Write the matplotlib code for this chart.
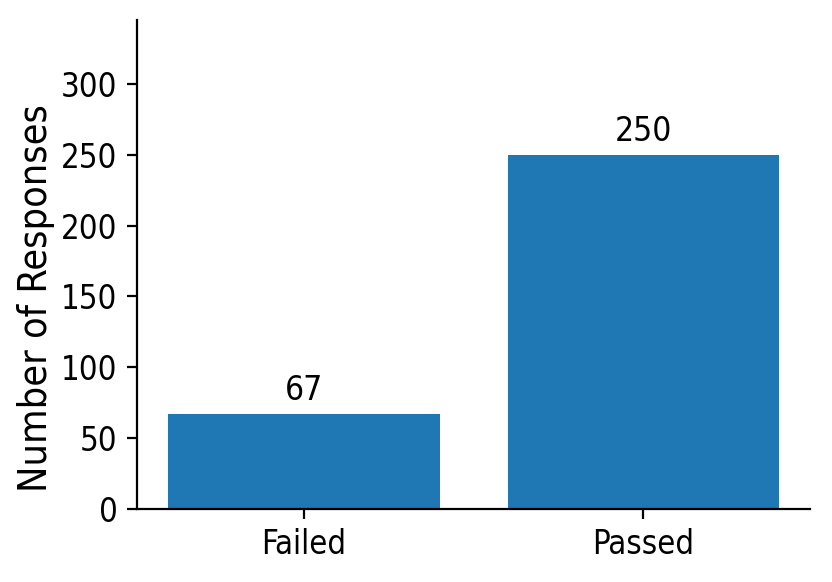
import matplotlib
matplotlib.use("Agg")
import matplotlib.pyplot as plt

categories = ["Failed", "Passed"]
counts = [67, 250]

plt.rcParams['font.family'] = ['DejaVu Sans']
plt.rcParams['font.stretch'] = 'condensed'

fig = plt.figure(figsize=(4.16, 2.91), dpi=200)
ax = fig.add_axes([0.1647, 0.1254, 0.8089, 0.8402])
bars = ax.bar(categories, counts, width=0.8, color='#1f77b4')
for b, v in zip(bars, counts):
    ax.annotate(str(v), (b.get_x() + b.get_width() / 2, v), xytext=(0, 2.5),
                textcoords='offset points', ha='center', va='bottom', fontsize=12)
ax.set_ylim(0, 345)
ax.set_yticks([0, 50, 100, 150, 200, 250, 300])
ax.set_ylabel("Number of Responses", fontsize=14.2)
ax.yaxis.set_label_coords(-0.122, 0.432)
ax.tick_params(labelsize=11.8, length=3.5)
ax.spines['top'].set_visible(False)
ax.spines['right'].set_visible(False)
fig.savefig("out.png", dpi=200)
